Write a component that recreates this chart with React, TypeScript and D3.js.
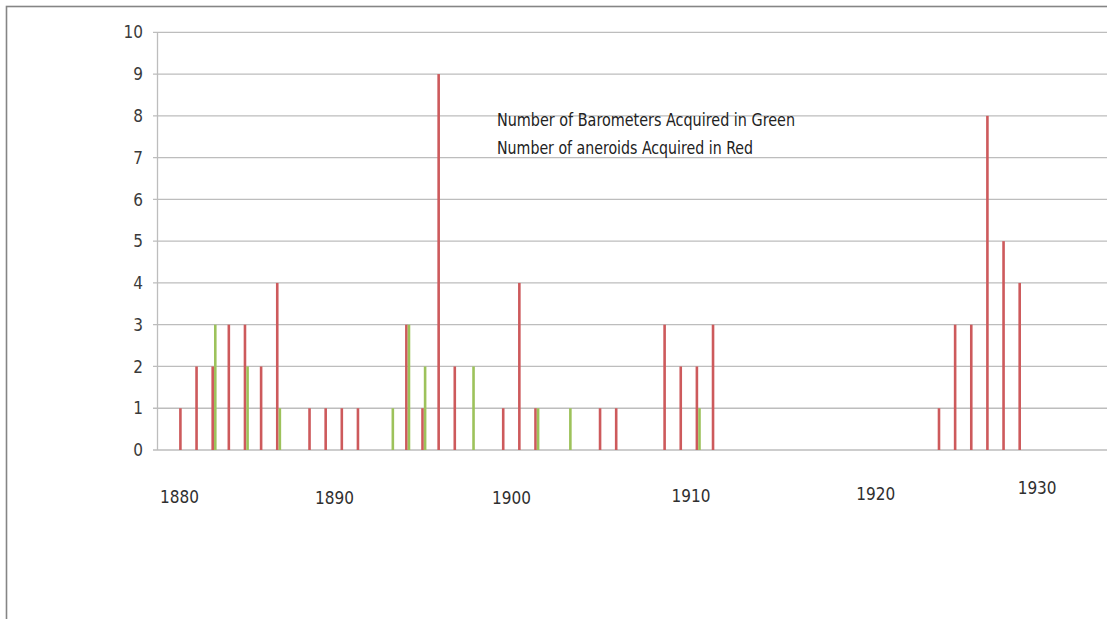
import React from "react";
import * as d3 from "d3";

// ---- data ----
const years: number[] = d3.range(1879, 1938); // category slots
const aneroids: [number, number][] = [
  [1880, 1], [1881, 2], [1882, 2], [1883, 3], [1884, 3], [1885, 2], [1886, 4],
  [1888, 1], [1889, 1], [1890, 1], [1891, 1], [1894, 3], [1895, 1], [1896, 9],
  [1897, 2], [1900, 1], [1901, 4], [1902, 1], [1906, 1], [1907, 1],
  [1910, 3], [1911, 2], [1912, 2], [1913, 3],
  [1927, 1], [1928, 3], [1929, 3], [1930, 8], [1931, 5], [1932, 4],
];
const barometers: [number, number][] = [
  [1882, 3], [1884, 2], [1886, 1], [1893, 1], [1894, 3], [1895, 2], [1898, 2],
  [1902, 1], [1904, 1], [1912, 1],
];
const yTicks: number[] = [0, 1, 2, 3, 4, 5, 6, 7, 8, 9, 10];
const xTickLabels: string[] = ["1880", "1890", "1900", "1910", "1920", "1930"];
const noteLines: string[] = [
  "Number of Barometers Acquired in Green",
  "Number of aneroids Acquired in Red",
];

// ---- layout (not data) ----
const W = 1107;
const H = 619;
const STEP = 16.14;
const X0 = 157.5;
const xLabelSlot = [0.86, 10.47, 21.43, 32.55, 44.0, 54.0];
const xLabelY = [497.3, 498.3, 498.3, 495.7, 494, 488.3];
const FONT = "'Liberation Sans Narrow', 'DejaVu Sans Condensed', 'Liberation Sans', sans-serif";
const RED = "#CD5A5C";
const GREEN = "#9DC25B";

export default function App() {
  const x0 = d3
    .scaleBand<number>()
    .domain(years)
    .range([X0, X0 + years.length * STEP])
    .padding(0);
  const x1 = d3
    .scaleBand<string>()
    .domain(["aneroids", "barometers"])
    .range([0, 5.2]);
  const y = d3.scaleLinear().domain([0, 10]).range([450, 32.3]);
  const [xr0, xr1] = x0.range();
  const bw = x0.bandwidth();
  const barX = (yr: number, s: string) => (x0(yr) as number) + bw / 2 - 2.6 + (x1(s) as number);

  return (
    <svg
      width={W}
      height={H}
      style={{ position: "absolute", left: 0, top: 0, background: "#fff" }}
      fontFamily={FONT}
    >
      <rect x={0} y={0} width={W} height={H} fill="#fff" />
      {/* chart border */}
      <rect x={6.5} y={6.5} width={1300} height={800} fill="none" stroke="#858585" strokeWidth={1.6} />
      {/* gridlines */}
      {yTicks.map((t) => (
        <g key={t}>
          <line x1={xr0 - 4.5} x2={xr1 + 20} y1={y(t)} y2={y(t)} stroke="#BDBDBD" strokeWidth={1.3} />
          <text
            x={143}
            y={y(t)}
            dy="0.36em"
            textAnchor="end"
            fontSize={17}
            fill="#3a3a3a"
          >
            {t}
          </text>
        </g>
      ))}
      {/* y axis line */}
      <line x1={xr0} x2={xr0} y1={y(10)} y2={y(0)} stroke="#BDBDBD" strokeWidth={1.3} />
      {/* bars */}
      {aneroids.map(([yr, v]) => (
        <rect
          key={"a" + yr}
          x={barX(yr, "aneroids")}
          y={y(v)}
          width={x1.bandwidth()}
          height={y(0) - y(v)}
          fill={RED}
        />
      ))}
      {barometers.map(([yr, v]) => (
        <rect
          key={"b" + yr}
          x={barX(yr, "barometers")}
          y={y(v)}
          width={x1.bandwidth()}
          height={y(0) - y(v)}
          fill={GREEN}
        />
      ))}
      {/* x labels (manually placed text boxes in original) */}
      {xTickLabels.map((l, i) => (
        <text
          key={l}
          x={xr0 + (xLabelSlot[i] + 0.5) * STEP}
          y={xLabelY[i]}
          dy="0.36em"
          textAnchor="middle"
          fontSize={17}
          fill="#2f2f2f"
        >
          {l}
        </text>
      ))}
      {/* annotation */}
      {noteLines.map((l, i) => (
        <text
          key={l}
          x={497}
          y={126 + i * 28}
          fontSize={18}
          fill="#222"
          textLength={i === 0 ? 298 : 256}
          lengthAdjust="spacingAndGlyphs"
        >
          {l}
        </text>
      ))}
    </svg>
  );
}
